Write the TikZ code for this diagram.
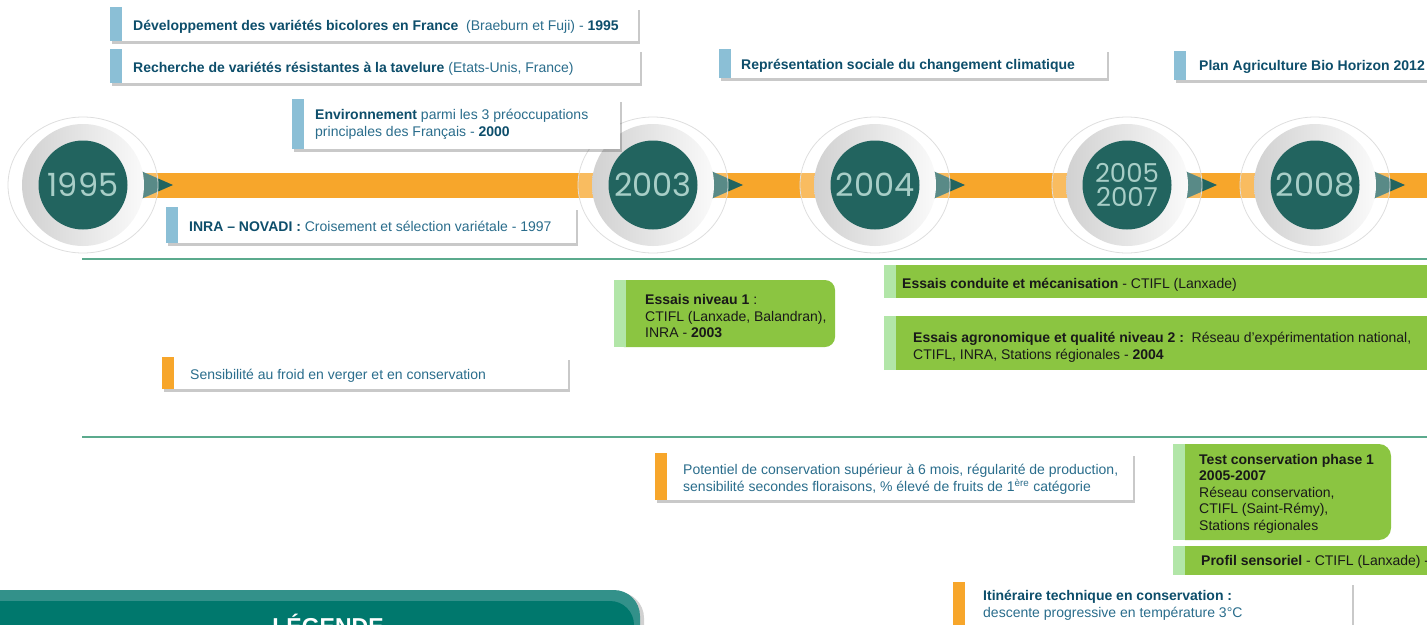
\documentclass[tikz,border=0pt]{standalone}
\usepackage{fontspec}
\setmainfont{Liberation Sans}
\newfontfamily\yearfont{Poppins}
\usetikzlibrary{shadows}

\definecolor{tlOrange}{HTML}{F7A62B}
\definecolor{tlBlue}{HTML}{8BBFD6}
\definecolor{tlNavy}{HTML}{0D4E6B}
\definecolor{tlText}{HTML}{2A6D8C}
\definecolor{tlGreen}{HTML}{8BC541}
\definecolor{tlLight}{HTML}{B2E6A8}
\definecolor{tlRule}{HTML}{5BAA8D}
\definecolor{tlDisc}{HTML}{22645F}
\definecolor{tlYear}{HTML}{A8CEC7}
\definecolor{tlLegA}{HTML}{33918A}
\definecolor{tlLegB}{HTML}{00786D}

\newcommand\keyw[1]{\textbf{\textcolor{tlNavy}{#1}}}
\def\card[#1](#2,#3)(#4,#5){\fill[white,cardshadow] (#2,#3) rectangle (#4,#5); \fill[#1] (#2,#3) rectangle (#2+12,#5);}
\def\gcard[#1](#2,#3)(#4,#5){\fill[tlGreen,rounded corners=#1] (#2,#3) rectangle (#4,#5); \fill[tlGreen] (#2,#3) rectangle (#2+20,#5); \fill[tlLight] (#2,#3) rectangle (#2+12,#5);}

\tikzset{
	cardshadow/.style={drop shadow={shadow xshift=1.5pt,shadow yshift=-2.5pt,opacity=.3,fill=black!70}},
	txt/.style={anchor=west,align=left,inner sep=0pt,yshift=-1.5pt,font=\fontsize{14}{16.5}\selectfont,text=tlText},
	gtxt/.style={txt,text=black!90},
	yeardisc/.style={circle,fill=tlDisc,minimum size=89pt,inner sep=0pt,align=center,text=tlYear},
}

\begin{document}
\begin{tikzpicture}[x=1pt,y=-1pt]
			%%%%% START %%%%%
			\useasboundingbox (0,0) rectangle (1427,624);
			\clip (0,0) rectangle (1427,624);
			
			% timeline
			\fill[tlOrange] (143,173) rectangle (1440,198);
			\draw[tlRule,line width=2pt] (82,259) -- (1440,259);
			\draw[tlRule,line width=2pt] (82,437) -- (1440,437);
			
			\foreach \cx/\yr/\nm/\fs in {83/1995/a/32, 653/2003/b/32, 875/2004/c/32, 1127/{2005\\2007}/d/26, 1315/2008/e/32}{
				\fill[tlDisc] (\cx+58,171) -- (\cx+90,185) -- (\cx+58,199) -- cycle;
				\fill[white,opacity=.25] (\cx,185) ellipse [x radius=75,y radius=68];
				\draw[black!13,line width=.8pt] (\cx,185) ellipse [x radius=75,y radius=68];
				\shade[left color=black!18,right color=black!2] (\cx,185) circle (61);
				\node[yeardisc,font=\yearfont\fontsize{\fs}{24.5}\selectfont] (yr\nm) at (\cx,185) {\yr};
			}
			
			% context cards
			\card[tlBlue](110,7)(638,41)
			\node[txt] (bicolor) at (133,25) {\keyw{Développement des variétés bicolores en France}\ \ (Braeburn et Fuji) - \keyw{1995}};
			\card[tlBlue](110,49)(640,83)
			\node[txt] (tavelure) at (133,67) {\keyw{Recherche de variétés résistantes à la tavelure} (Etats-Unis, France)};
			\card[tlBlue](292,99)(620,149)
			\node[txt] (environ) at (315,123) {\keyw{Environnement} parmi les 3 préoccupations\\principales des Français - \keyw{2000}};
			\card[tlBlue](719,49)(1107,78)
			\node[txt] (climat) at (741,64) {\keyw{Représentation sociale du changement climatique}};
			\card[tlBlue](1174,51)(1440,80)
			\node[txt] (bio) at (1199,65) {\keyw{Plan Agriculture Bio Horizon 2012}};
			\card[tlBlue](166,207)(576,243)
			\node[txt] (novadi) at (189,225) {\keyw{INRA – NOVADI :} Croisement et sélection variétale - 1997};
			
			% criteria cards
			\card[tlOrange](162,357)(568,389)
			\node[txt] (froid) at (190,374) {Sensibilité au froid en verger et en conservation};
			\card[tlOrange](655,453)(1133,500)
			\node[txt] (potentiel) at (683,478) {Potentiel de conservation supérieur à 6 mois, régularité de production,\\sensibilité secondes floraisons, \% élevé de fruits de 1\textsuperscript{ère} catégorie};
			\card[tlOrange](953,582)(1352,650)
			\node[txt] (itineraire) at (983,604) {\keyw{Itinéraire technique en conservation :}\\descente progressive en température 3°C};
			
			% trials
			\gcard[10](614,280)(835,347)
			\node[gtxt] (niveau1) at (645,315) {\textbf{Essais niveau 1} :\\CTIFL (Lanxade, Balandran),\\INRA - \textbf{2003}};
			\gcard[0](884,265)(1440,298)
			\node[gtxt] (conduite) at (902,283) {\textbf{Essais conduite et mécanisation} - CTIFL (Lanxade)};
			\gcard[0](884,316)(1440,370)
			\node[gtxt] (niveau2) at (913,346) {\textbf{Essais agronomique et qualité niveau 2 :}\ \ Réseau d’expérimentation national,\\CTIFL, INRA, Stations régionales - \textbf{2004}};
			\gcard[12](1173,444)(1391,540)
			\node[gtxt] (phase1) at (1199,492) {\textbf{Test conservation phase 1}\\\textbf{2005-2007}\\Réseau conservation,\\CTIFL (Saint-Rémy),\\Stations régionales};
			\gcard[0](1173,546)(1440,575)
			\node[gtxt] (sensoriel) at (1201,560) {\textbf{Profil sensoriel} - CTIFL (Lanxade) -};
			
			% legend
			\fill[tlLegA,rounded corners=26,drop shadow={shadow xshift=4pt,shadow yshift=-2pt,opacity=.3,fill=black!60}] (-30,590) rectangle (640,690);
			\fill[tlLegB,rounded corners=24] (-30,601) rectangle (634,690);
			\node[anchor=base,inner sep=0pt,text=white,font=\bfseries\fontsize{23}{23}\selectfont] (legende) at (328,634) {LÉGENDE};
			
			%%%%% END %%%%%
\end{tikzpicture}
\end{document}
